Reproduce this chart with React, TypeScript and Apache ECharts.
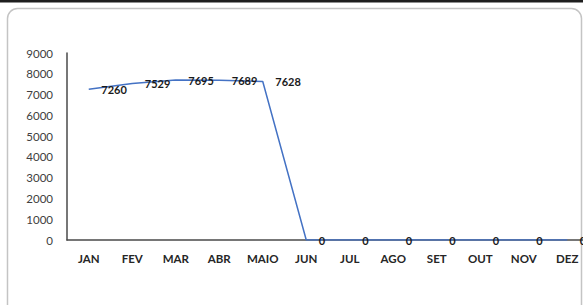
import React, { useEffect, useRef } from "react";
import * as echarts from "echarts";

const months = ["JAN", "FEV", "MAR", "ABR", "MAIO", "JUN", "JUL", "AGO", "SET", "OUT", "NOV", "DEZ"];
const values = [7260, 7529, 7695, 7689, 7628, 0, 0, 0, 0, 0, 0, 0];
const yTicks = { min: 0, max: 9000, interval: 1000 };

export default function App() {
  const ref = useRef<HTMLDivElement>(null);
  useEffect(() => {
    document.body.style.margin = "0";
    document.body.style.overflow = "hidden";
    const chart = echarts.init(ref.current!, null, { renderer: "svg" });
    chart.setOption({
      animation: false,
      backgroundColor: "#ffffff",
      textStyle: { fontFamily: "Lato, 'Open Sans', sans-serif" },
      graphic: [
        { type: "rect", shape: { x: 0, y: 0, width: 583, height: 2.5 }, style: { fill: "#1e1e1e" }, silent: true },
        {
          type: "rect",
          shape: { x: 7.5, y: 8.5, width: 574, height: 320, r: 10 },
          style: { fill: "none", stroke: "#c4c4c4", lineWidth: 1.5 },
          silent: true,
        },
      ],
      grid: { left: 67, top: 53, width: 522, height: 187, containLabel: false, outerBoundsMode: "none" },
      xAxis: {
        type: "category",
        data: months,
        boundaryGap: true,
        axisLine: { show: true, lineStyle: { color: "#4a4a4a", width: 1.5 } },
        axisTick: { show: false },
        axisLabel: { color: "#262626", fontSize: 11.5, fontWeight: "bold", margin: 12, interval: 0 },
        splitLine: { show: false },
      },
      yAxis: {
        type: "value",
        min: yTicks.min,
        max: yTicks.max,
        interval: yTicks.interval,
        axisLine: { show: true, lineStyle: { color: "#4a4a4a", width: 1.5 } },
        axisTick: { show: false },
        axisLabel: { color: "#404040", fontSize: 11.5, margin: 14, formatter: (v: number) => String(v) },
        splitLine: { show: false },
      },
      series: [
        {
          type: "line",
          data: values,
          symbol: "circle",
          symbolSize: 1,
          itemStyle: { color: "rgba(68,114,196,0)" },
          lineStyle: { color: "#4472c4", width: 1.5 },
          label: {
            show: true,
            position: "right",
            distance: 12,
            color: "#1a1a1a",
            fontSize: 11,
            fontWeight: "bold",
            formatter: (p: any) => String(p.value),
          },
        },
      ],
    });
    return () => chart.dispose();
  }, []);
  return <div ref={ref} style={{ position: "fixed", left: 0, top: 0, width: 583, height: 305 }} />;
}
